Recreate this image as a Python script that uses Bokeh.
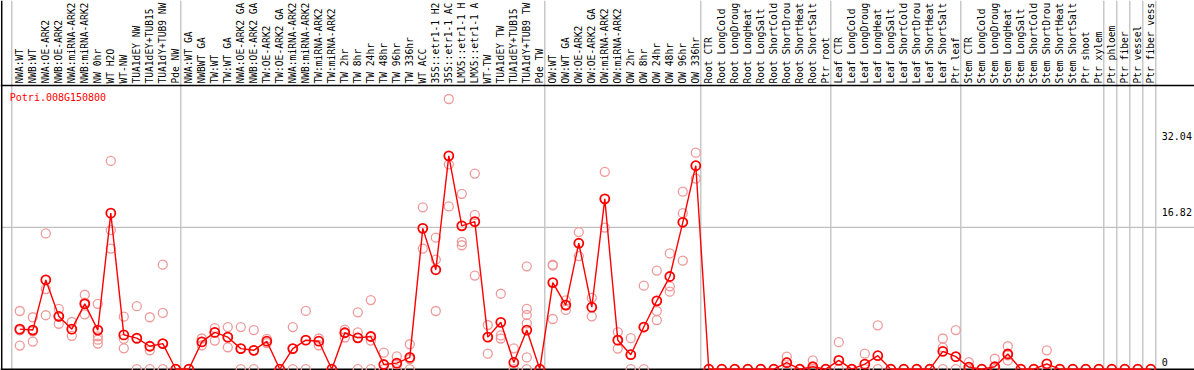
import math
from bokeh.plotting import figure
from bokeh.models import Range1d, Span
from bokeh.core.properties import value
from bokeh.embed import file_html
from bokeh.resources import INLINE

# ---------------- data ----------------
gene = "Potri.008G150800"

labels = [
    # NW group
    "NWA:WT", "NWB:WT", "NWA:OE-ARK2", "NWB:OE-ARK2", "NWA:miRNA-ARK2", "NWB:miRNA-ARK2",
    "NW 0hr", "WT H2O", "WT-NW", "TUA1dEY NW", "TUA1dEY+TUB15", "TUA1dY+TUB9 NW", "Pde NW",
    # TW group
    "NWA:WT GA", "NWBWT GA", "TW:WT", "TW:WT GA", "NWA:OE-ARK2 GA", "NWB:OE-ARK2 GA",
    "TW:OE-ARK2", "TW:OE-ARK2 GA", "NWA:miRNA-ARK2", "NWB:miRNA-ARK2", "TW:miRNA-ARK2",
    "TW:miRNA-ARK2", "TW 2hr", "TW 8hr", "TW 24hr", "TW 48hr", "TW 96hr", "TW 336hr",
    "WT ACC", "35S::etr1-1 H2", "35S::etr1-1 AC", "LMX5::etr1-1 H", "LMX5::etr1-1 A",
    "WT-TW", "TUA1dEY TW", "TUA1dEY+TUB15", "TUA1dY+TUB9 TW", "Pde TW",
    # OW group
    "OW:WT", "OW:WT GA", "OW:OE-ARK2", "OW:OE-ARK2 GA", "OW:miRNA-ARK2", "OW:miRNA-ARK2",
    "OW 2hr", "OW 8hr", "OW 24hr", "OW 48hr", "OW 96hr", "OW 336hr",
    # Root
    "Root CTR", "Root LongCold", "Root LongDroug", "Root LongHeat", "Root LongSalt",
    "Root ShortCold", "Root ShortDrou", "Root ShortHeat", "Root ShortSalt", "Ptr root",
    # Leaf
    "Leaf CTR", "Leaf LongCold", "Leaf LongDroug", "Leaf LongHeat", "Leaf LongSalt",
    "Leaf ShortCold", "Leaf ShortDrou", "Leaf ShortHeat", "Leaf ShortSalt", "Ptr leaf",
    # Stem
    "Stem CTR", "Stem LongCold", "Stem LongDroug", "Stem LongHeat", "Stem LongSalt",
    "Stem ShortCold", "Stem ShortDrou", "Stem ShortHeat", "Stem ShortSalt", "Ptr shoot",
    "Ptr xylem",
    "Ptr phloem", "Ptr fiber", "Ptr vessel", "Ptr fiber vess",
]

means = [
    4.75, 4.64, 10.59, 6.27, 4.75, 7.75, 4.64, 18.5, 4.07, 3.68, 2.72, 3.04, 0.0,
    0.0, 3.24, 4.36, 3.8, 2.44, 2.24, 3.32, 0.0, 2.44, 3.44, 3.32, 0.0, 4.32, 3.72,
    3.88, 0.56, 0.72, 1.4, 16.7, 11.79, 25.3, 17.0, 17.5, 3.8, 5.56, 0.8, 4.64, 0.0,
    10.27, 7.6, 14.94, 7.35, 20.2, 3.44, 1.72, 5.0, 8.11, 10.99, 17.42, 24.13,
    0.0, 0.0, 0.0, 0.0, 0.0, 0.0, 0.77, 0.0, 0.29, 0.0,
    1.04, 0.0, 0.6, 1.6, 0.0, 0.0, 0.0, 0.0, 2.12, 1.49,
    0.24, 0.0, 0.29, 1.8, 0.0, 0.0, 0.64, 0.0, 0.0, 0.0,
    0.0,
    0.0, 0.0, 0.0, 0.0,
]

replicates = [
    [6.9, 4.6, 2.8], [6.16, 4.5, 3.28], [16.1, 9.5, 6.4], [7.15, 6.27, 5.39],
    [5.6, 4.75, 3.96], [8.83, 7.9, 6.5], [7.75, 3.9, 3.5, 3.04], [24.7, 16.5, 14.3],
    [6.23, 3.6, 2.48], [7.47, 3.6, 0.0], [6.16, 2.24, 0.0], [12.39, 6.67, 0.0], [0.0, 0.0],
    [0.0, 0.0], [3.64, 3.24, 2.84], [4.88, 4.36, 3.4], [5.0, 3.8, 2.6], [5.0, 2.44, 0.0],
    [4.64, 2.24, 0.0], [3.6, 3.1], [0.0, 0.0], [5.0, 2.44, 0.0], [6.91, 3.44, 0.0],
    [3.64, 2.84], [0.0, 0.0], [4.7, 4.32, 3.76], [6.75, 4.36, 0.0], [8.2, 3.4, 0.0],
    [1.96, 0.0], [1.52, 0.6, 0.0], [2.96, 1.2, 0.0], [19.2, 16.7, 14.3],
    [15.6, 13.0, 6.9], [32.04, 24.3, 19.3], [20.8, 15.1, 14.7], [23.2, 18.3, 11.1],
    [5.24, 3.8, 1.84], [8.95, 4.0, 3.64], [2.48, 0.0], [12.2, 7.15, 6.43, 5.44, 1.4, 0.0],
    [0.0, 0.0],
    [12.39, 12.3, 5.95], [8.15, 7.6, 7.03], [16.26, 14.9, 13.42], [8.47, 7.35, 6.27],
    [23.4, 20.2, 16.8], [4.4, 3.44, 2.44], [3.68, 1.72, 0.0], [9.9, 5.0, 0.0],
    [11.7, 6.9, 5.83], [13.74, 9.83, 9.19], [21.05, 18.5, 12.87], [25.68, 24.13, 22.6],
    [0.0, 0.0], [0.0, 0.0], [0.0, 0.0], [0.0, 0.0], [0.0, 0.0], [0.0, 0.0],
    [1.49, 0.8, 0.0], [0.0, 0.0], [1.04, 0.0], [0.0, 0.0],
    [3.2, 0.0], [0.0, 0.0], [1.84, 0.0], [5.2, 0.0], [0.0, 0.0], [0.0, 0.0], [0.0, 0.0],
    [0.0, 0.0], [3.64, 2.56, 0.0], [4.64, 0.0],
    [0.84, 0.0], [0.0, 0.0], [1.24, 0.0], [2.72, 1.64, 1.04], [0.0, 0.0], [0.0, 0.0],
    [2.24, 0.0], [0.0, 0.0], [0.0, 0.0], [0.0, 0.0],
    [0.0, 0.0],
    [0.0, 0.0], [0.0, 0.0], [0.0, 0.0], [0.0, 0.0],
]

group_starts = [0, 13, 41, 53, 63, 73, 84, 85, 86, 87, 88]
y_max = 32.04
y_mid = 16.82
tick_labels = ["32.04", "16.82", "0"]
tick_label_values = [27.7, 18.6, 0.8]

# ---------------- layout ----------------
W, H = 1194, 370
col_px = 13.0           # pixels per column
first_px = 19.3         # left edge -> first column centre
top_frame_px = 85       # label band height
zero_px = 368.7         # y pixel of value 0
y_top = y_max * 1.05    # value at the top frame line
ppu = (zero_px - top_frame_px) / y_top

x_start = -first_px / col_px
x_end = x_start + W / col_px
y_start = -(H - zero_px) / ppu
y_end = zero_px / ppu

n = len(labels)
xs = list(range(n))

p = figure(width=W, height=H, x_range=Range1d(x_start, x_end),
           y_range=Range1d(y_start, y_end), output_backend="svg",
           toolbar_location=None, min_border=0, outline_line_color=None,
           x_axis_location=None, y_axis_location=None,
           background_fill_color="white", border_fill_color="white")
p.grid.visible = False

GRAY = "#c0c0c0"
off = 8.0 / 13.0
for g in group_starts:
    p.add_layout(Span(location=g - off, dimension="height", line_color=GRAY,
                      line_width=1.3, level="underlay"))
p.add_layout(Span(location=y_mid, dimension="width", line_color=GRAY,
                  line_width=1.3, level="underlay"))
p.add_layout(Span(location=y_top, dimension="width", line_color="black",
                  line_width=1.5, level="underlay"))
p.add_layout(Span(location=0, dimension="width", line_color="black",
                  line_width=1.5, level="underlay"))
p.add_layout(Span(location=x_start + 1.2 / col_px, dimension="height",
                  line_color="black", line_width=1.5, level="underlay"))

# replicate points
rx, ry = [], []
for i, reps in enumerate(replicates):
    for v in reps:
        rx.append(i)
        ry.append(v)
p.scatter(rx, ry, marker="circle", size=9, fill_color=None,
          line_color="#ee9a9a", line_width=1.3)

# mean line + points
p.line(xs, means, line_color="#ff0000", line_width=1.4)
p.scatter(xs, means, marker="circle", size=9, fill_color=None,
          line_color="#ff0000", line_width=1.8)

mono = value("DejaVu Sans Mono")

# column labels (vertical)
lab_y = (zero_px - (top_frame_px - 2)) / ppu
p.text(x=xs, y=[lab_y] * n, text=labels, angle=math.pi / 2,
       text_align="left", text_baseline="middle", text_font=mono,
       text_font_size="9.6px", text_color="black")

# gene title
p.text(x=[x_start + 9.3 / col_px], y=[(zero_px - (top_frame_px + 12)) / ppu],
       text=[gene], text_align="left", text_baseline="middle", text_font=mono,
       text_font_size="10px", text_color="#ff0000")

# value labels on the right
last_line = group_starts[-1] - off
tx = [last_line + 6.0 / col_px] * 3
p.text(x=tx, y=tick_label_values, text=tick_labels, text_align="left",
       text_baseline="middle", text_font=mono, text_font_size="10px",
       text_color="black")

open("out.html", "w").write(file_html(p, INLINE))
